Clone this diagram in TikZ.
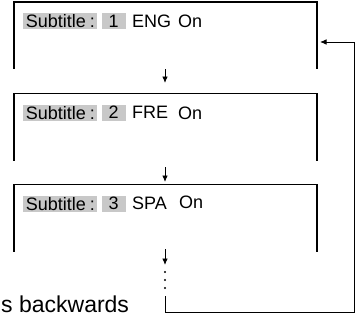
\documentclass[tikz,border=0pt]{standalone}
\usepackage{fontspec}
\setmainfont{Liberation Sans}
\usetikzlibrary{arrows.meta}
\definecolor{hlgray}{RGB}{200,200,200}
\tikzset{
  frameline/.style={line width=1.6pt, line cap=rect},
  framebox/.style={draw=none, minimum width=303pt, minimum height=66pt, inner sep=0pt},
  hl/.style={fill=hlgray, inner sep=0pt, minimum height=16pt, anchor=west, font=\fontsize{18}{18}\selectfont},
  txt/.style={inner sep=0pt, anchor=west, font=\fontsize{18}{18}\selectfont},
  conn/.style={line width=0.9pt},
  arr/.style={line width=0.9pt, -{Latex[length=6.5pt,width=5.5pt]}},
  dot/.style={circle, fill=black, inner sep=0pt, minimum size=2.2pt},
}
\begin{document}
\begin{tikzpicture}[x=1pt,y=-1pt]
\useasboundingbox (0,0) rectangle (361,321);
% frames
\node[framebox] (f1) at (165.5,35) {};
\node[framebox] (f2) at (165.5,126.5) {};
\node[framebox] (f3) at (165.5,217.5) {};
\foreach \f in {f1,f2,f3}
  \draw[frameline] (\f.south west) -- (\f.north west) -- (\f.north east) -- (\f.south east);
% texts
\node[hl, minimum width=74pt] (s1) at (23,21.2) {\hspace{0.5pt}Subtitle\hspace{4pt}:\hfill};
\node[hl, minimum width=24pt] (n1) at (101.5,21.2) {\hfill 1\hfill};
\node[txt] (l1) at (132,21.2) {ENG};
\node[txt] (o1) at (178,21.2) {On};
\node[hl, minimum width=74pt] (s2) at (23,112.7) {\hspace{0.5pt}Subtitle\hspace{4pt}:\hfill};
\node[hl, minimum width=24pt] (n2) at (101.5,112.7) {\hfill 2\hfill};
\node[txt] (l2) at (132,112.7) {FRE};
\node[txt] (o2) at (178,113.2) {On};
\node[hl, minimum width=74pt] (s3) at (23,203.7) {\hspace{0.5pt}Subtitle\hspace{4pt}:\hfill};
\node[hl, minimum width=24pt] (n3) at (101.5,203.7) {\hfill 3\hfill};
\node[txt] (l3) at (132,203.7) {SPA};
\node[txt] (o3) at (179,202.7) {On};
\node[inner sep=0pt, anchor=base west, font=\fontsize{23}{23}\selectfont] (back) at (1,312) {s backwards};
% arrows
\coordinate (a1s) at (165,69);  \coordinate (a1e) at (165,83);
\coordinate (a2s) at (165,167); \coordinate (a2e) at (165,182);
\coordinate (a3s) at (165,249); \coordinate (a3e) at (165,265);
\draw[arr] (a1s) -- (a1e);
\draw[arr] (a2s) -- (a2e);
\draw[arr] (a3s) -- (a3e);
\node[dot] (d1) at (165,272) {};
\node[dot] (d2) at (165,280) {};
\node[dot] (d3) at (165,288) {};
\coordinate (r0) at (165,296);
\coordinate (r1) at (165,312);
\coordinate (r2) at (354,312);
\coordinate (r3) at (354,42);
\coordinate (r4) at (320,42);
\draw[conn, -{Latex[length=6.5pt,width=5.5pt]}] (r0) -- (r1) -- (r2) -- (r3) -- (r4);
\end{tikzpicture}
\end{document}
